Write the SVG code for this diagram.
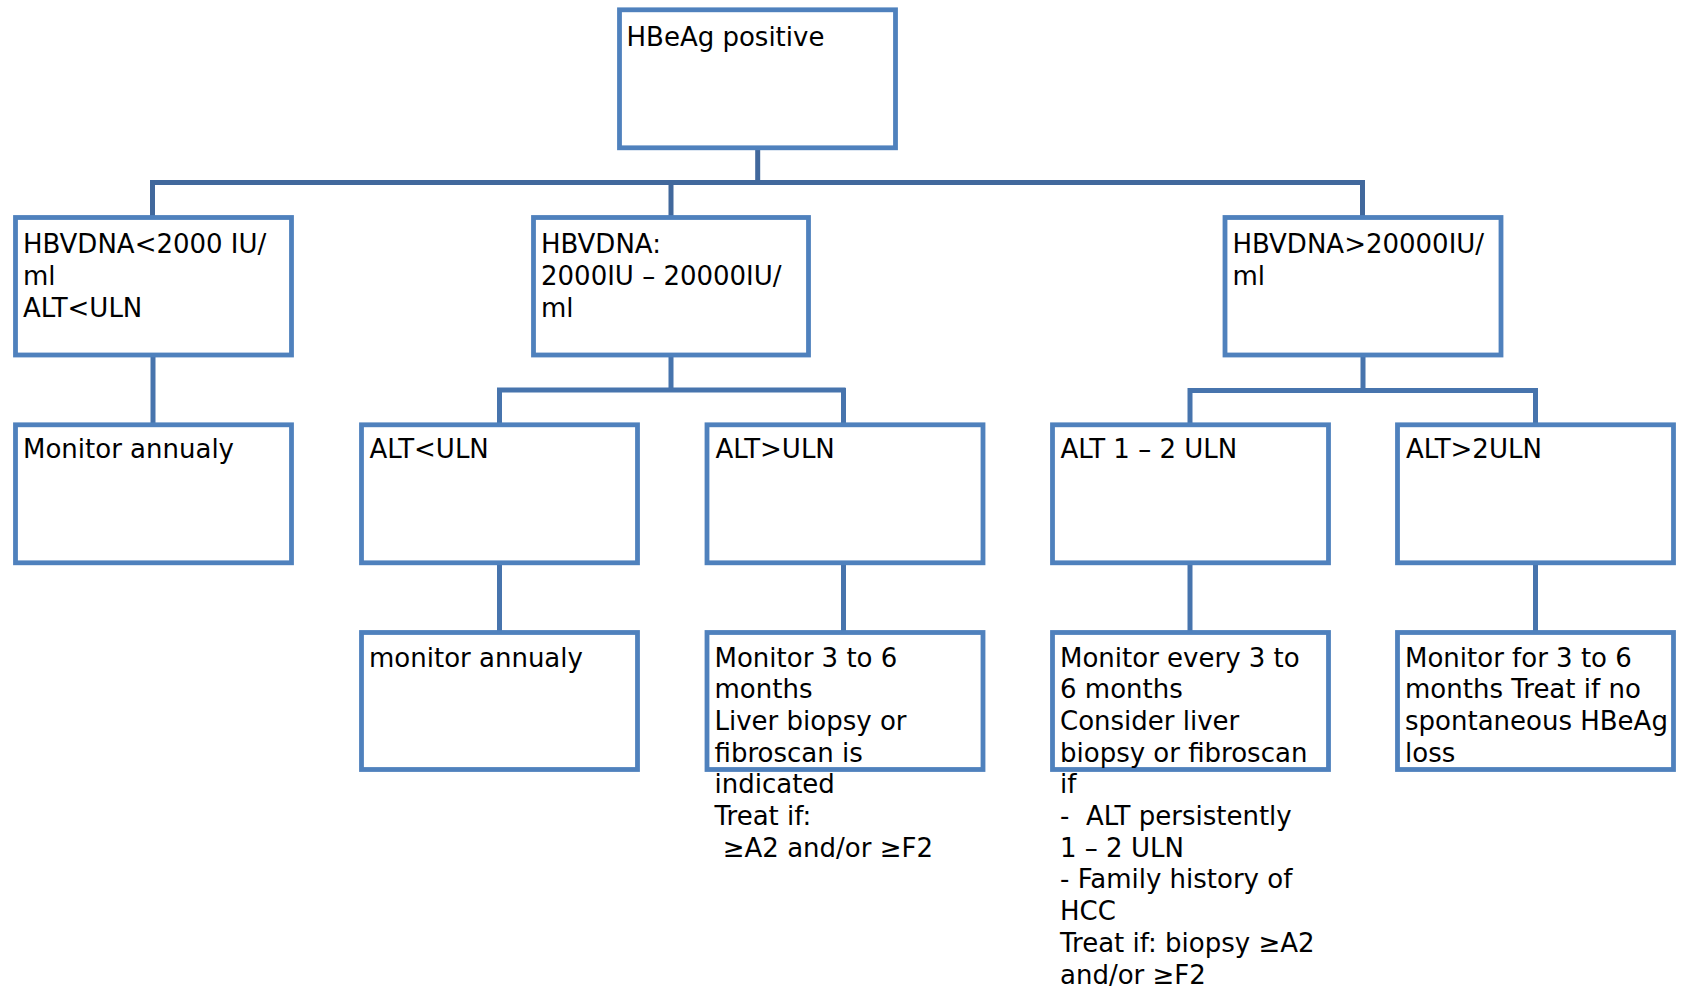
<svg xmlns="http://www.w3.org/2000/svg" width="1681" height="989" viewBox="0 0 1681 989">
<style>
.box{fill:#ffffff;stroke:#4f81bd;stroke-width:4.8}
.c1{stroke:#41689c;stroke-width:5;fill:none}
.c2{stroke:#4774ad;stroke-width:5;fill:none}
text{font-family:"DejaVu Sans","Liberation Sans",sans-serif;font-size:26px;fill:#000000;white-space:pre}
</style>
<rect width="1681" height="989" fill="#ffffff"/>
<g id="connectors">
<path class="c1" d="M757.7 148 V182.5 M152.5 182.5 H1362.5 M152.5 180 V217.5 M671 180 V217.5 M1362.5 180 V217.5"/>
<path class="c2" d="M153 355 V425"/>
<path class="c2" d="M671 355 V390 M497 390 H845.5 M499.5 388 V425 M843.5 388 V425"/>
<path class="c2" d="M1363 355 V390.5 M1188 390.5 H1537.5 M1190 388 V425 M1535.5 388 V425"/>
<path class="c2" d="M499.5 563 V632.5 M843.5 563 V632.5 M1190 563 V632.5 M1535.5 563 V632.5"/>
</g>
<g id="n-root"><rect class="box" x="619.5" y="9.8" width="276" height="138"/><text x="626.5" y="45.7">HBeAg positive</text></g>
<g id="n-low"><rect class="box" x="15.5" y="217.5" width="276" height="137.5"/><text x="23" y="253.3">HBVDNA&lt;2000 IU/<tspan x="23" y="285">ml</tspan><tspan x="23" y="316.7">ALT&lt;ULN</tspan></text></g>
<g id="n-mid"><rect class="box" x="533.5" y="217.5" width="275" height="137.5"/><text x="541" y="253.3">HBVDNA:<tspan x="541" y="285">2000IU – 20000IU/</tspan><tspan x="541" y="316.7">ml</tspan></text></g>
<g id="n-high"><rect class="box" x="1225" y="217.5" width="276" height="137.5"/><text x="1232.5" y="253.3">HBVDNA&gt;20000IU/<tspan x="1232.5" y="285">ml</tspan></text></g>
<g id="n-mon1"><rect class="box" x="15.5" y="424.8" width="276" height="138"/><text x="23" y="458.3">Monitor annualy</text></g>
<g id="n-altlow"><rect class="box" x="361.5" y="424.8" width="276" height="138"/><text x="369.5" y="458.3">ALT&lt;ULN</text></g>
<g id="n-althigh"><rect class="box" x="707" y="424.8" width="276" height="138"/><text x="715.5" y="458.3">ALT&gt;ULN</text></g>
<g id="n-alt12"><rect class="box" x="1052.5" y="424.8" width="276" height="138"/><text x="1060.5" y="458.3">ALT 1 – 2 ULN</text></g>
<g id="n-alt2"><rect class="box" x="1397.5" y="424.8" width="276" height="138"/><text x="1406" y="458.3">ALT&gt;2ULN</text></g>
<g id="n-mon2"><rect class="box" x="361.5" y="632.5" width="276" height="137"/><text x="369" y="666.5">monitor annualy</text></g>
<g id="n-mon3"><rect class="box" x="707" y="632.5" width="276" height="137"/><text x="714.5" y="666.5">Monitor 3 to 6<tspan x="714.5" y="698.2">months</tspan><tspan x="714.5" y="729.9">Liver biopsy or</tspan><tspan x="714.5" y="761.6">fibroscan is</tspan><tspan x="714.5" y="793.3">indicated</tspan><tspan x="714.5" y="825">Treat if:</tspan><tspan x="714.5" y="856.7"> ≥A2 and/or ≥F2</tspan></text></g>
<g id="n-mon4"><rect class="box" x="1052.5" y="632.5" width="276" height="137"/><text x="1060" y="666.5">Monitor every 3 to<tspan x="1060" y="698.2">6 months</tspan><tspan x="1060" y="729.9">Consider liver</tspan><tspan x="1060" y="761.6">biopsy or fibroscan</tspan><tspan x="1060" y="793.3">if</tspan><tspan x="1060" y="825">-  ALT persistently</tspan><tspan x="1060" y="856.7">1 – 2 ULN</tspan><tspan x="1060" y="888.4">- Family history of</tspan><tspan x="1060" y="920.1">HCC</tspan><tspan x="1060" y="951.8">Treat if: biopsy ≥A2</tspan><tspan x="1060" y="983.5">and/or ≥F2</tspan></text></g>
<g id="n-mon5"><rect class="box" x="1397.5" y="632.5" width="276" height="137"/><text x="1405" y="666.5">Monitor for 3 to 6<tspan x="1405" y="698.2">months Treat if no</tspan><tspan x="1405" y="729.9">spontaneous HBeAg</tspan><tspan x="1405" y="761.6">loss</tspan></text></g>
</svg>
